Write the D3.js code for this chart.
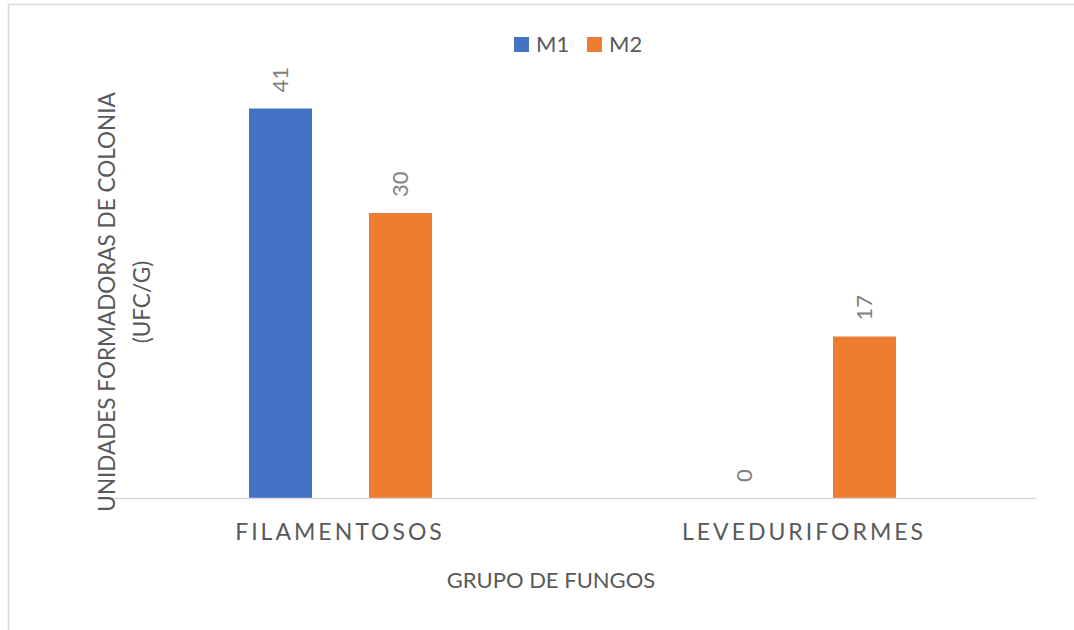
<!DOCTYPE html>
<html>
<head>
<meta charset="utf-8">
<script src="https://cdn.jsdelivr.net/npm/d3@7"></script>
<style>
    body { margin: 0; background: #fff; }
    svg { display: block; font-family: Lato, "Open Sans", sans-serif; }
</style>
</head>
<body>
<svg></svg>
<script>

const categories = ["FILAMENTOSOS", "LEVEDURIFORMES"]
const series = ["M1", "M2"]
const m1Values = [41, 0]
const m2Values = [30, 17]

const colors = ["#4472C4", "#ED7D31"]

const svg = d3.select("svg")
    .attr("width", 1074)
    .attr("height", 630)

// chart border (only top and left edges show in the frame)
svg.append("rect")
    .attr("x", 8.5)
    .attr("y", 4.5)
    .attr("width", 1200)
    .attr("height", 800)
    .attr("fill", "none")
    .attr("stroke", "#d9d9d9")
    .attr("stroke-width", 1.5)

const x0 = d3.scaleBand()
    .domain(categories)
    .range([108, 1036])

const x1 = d3.scaleBand()
    .domain(series)
    .range([141, 324])
    .paddingInner(0.475)

const y = d3.scaleLinear()
    .domain([0, 45])
    .range([498, 70.5])

const rows = categories.map((c, i) => {
    return { category: c, values: [m1Values[i], m2Values[i]] }
})

const groups = svg.selectAll("g.group")
    .data(rows)
    .enter()
    .append("g")
    .attr("class", "group")
    .attr("transform", d => "translate(" + x0(d.category) + ",0)")

groups.selectAll("rect")
    .data(d => d.values.map((v, i) => ({ key: series[i], value: v, i: i })))
    .enter()
    .append("rect")
    .attr("x", d => x1(d.key))
    .attr("y", d => y(d.value))
    .attr("width", x1.bandwidth())
    .attr("height", d => y(0) - y(d.value))
    .style("fill", d => colors[d.i])

// data labels, rotated
groups.selectAll("text.label")
    .data(d => d.values.map((v, i) => ({ key: series[i], value: v })))
    .enter()
    .append("text")
    .attr("class", "label")
    .attr("transform", d => {
        const cx = x1(d.key) + x1.bandwidth() / 2
        return "translate(" + cx + "," + (y(d.value) - 16) + ") rotate(-90)"
    })
    .attr("dy", "0.36em")
    .attr("text-anchor", "start")
    .style("font-size", "22px")
    .style("fill", "#808080")
    .text(d => d.value)

// x axis
const xAxis = svg.append("g")
    .attr("transform", "translate(0,498)")
    .call(d3.axisBottom(x0).tickSize(0).tickPadding(26))

xAxis.select(".domain")
    .attr("stroke", "#d9d9d9")
    .attr("stroke-width", 1.5)

xAxis.selectAll("text")
    .style("font-family", "Lato, 'Open Sans', sans-serif")
    .style("font-size", "23px")
    .style("letter-spacing", "3px")
    .style("fill", "#595959")

// axis titles
svg.append("text")
    .attr("x", 551)
    .attr("y", 588)
    .attr("text-anchor", "middle")
    .style("font-size", "22px")
    .style("fill", "#595959")
    .text("GRUPO DE FUNGOS")

const yTitle = svg.append("text")
    .attr("transform", "translate(115,302) rotate(-90)")
    .attr("text-anchor", "middle")
    .style("font-size", "22.5px")
    .style("fill", "#595959")

yTitle.append("tspan").attr("x", 0).attr("y", 0).text("UNIDADES FORMADORAS DE COLONIA")
yTitle.append("tspan").attr("x", 0).attr("y", 35).text("(UFC/G)")

// legend
const legend = svg.selectAll("g.legend")
    .data(series)
    .enter()
    .append("g")
    .attr("class", "legend")
    .attr("transform", (d, i) => "translate(" + (514 + i * 73) + ",37)")

legend.append("rect")
    .attr("width", 15)
    .attr("height", 15)
    .style("fill", (d, i) => colors[i])

legend.append("text")
    .attr("x", 22)
    .attr("y", 15)
    .style("font-size", "22px")
    .style("fill", "#595959")
    .text(d => d)

</script>
</body>
</html>
